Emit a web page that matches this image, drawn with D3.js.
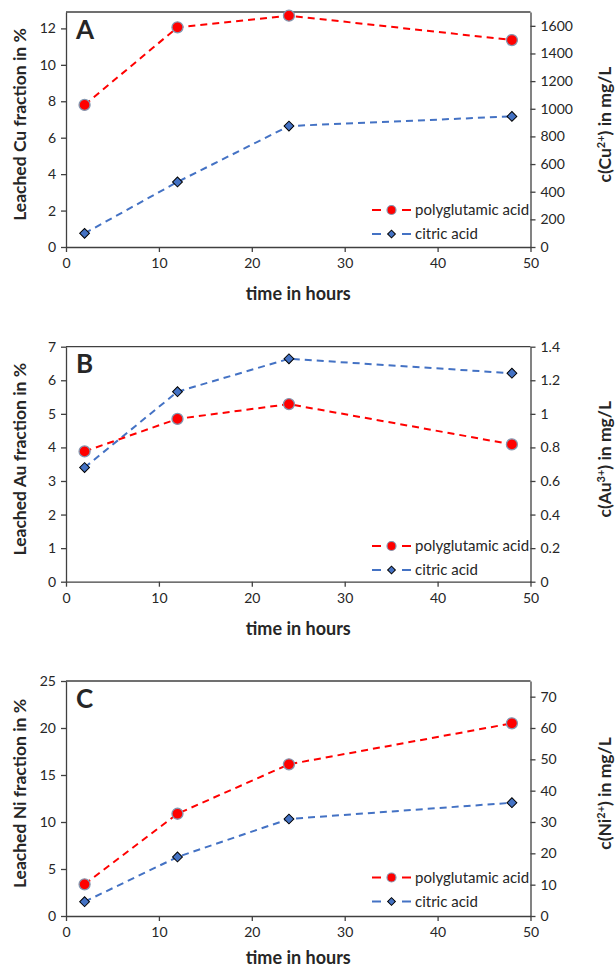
<!DOCTYPE html>
<html>
<head>
<meta charset="utf-8">
<script src="https://cdn.jsdelivr.net/npm/d3@7"></script>
<style>
  body { margin: 0; background: #fff; }
  svg text { font-family: Lato, "Open Sans", sans-serif; fill: #262626; }
</style>
</head>
<body>
<div id="chart"></div>
<script>
// datos
const hours = [2, 12, 24, 48];
const seriesNames = ["polyglutamic acid", "citric acid"];
const polyCu = [7.8, 12.06, 12.7, 11.36];
const citricCu = [0.75, 3.57, 6.64, 7.17];
const polyAu = [3.88, 4.85, 5.29, 4.09];
const citricAu = [3.4, 5.66, 6.64, 6.21];
const polyNi = [3.37, 10.88, 16.14, 20.5];
const citricNi = [1.52, 6.28, 10.32, 12.05];

const xTicks = [0, 10, 20, 30, 40, 50];
const cuLeftTicks = [0, 2, 4, 6, 8, 10, 12];
const cuRightTicks = [0, 200, 400, 600, 800, 1000, 1200, 1400, 1600];
const auLeftTicks = [0, 1, 2, 3, 4, 5, 6, 7];
const auRightTicks = [0, 0.2, 0.4, 0.6, 0.8, 1, 1.2, 1.4];
const niLeftTicks = [0, 5, 10, 15, 20, 25];
const niRightTicks = [0, 10, 20, 30, 40, 50, 60, 70];

const width = 615;
const height = 969;
const left = 66;
const right = 530.5;
const red = "#ff0000";
const blue = "#4472c4";

const panels = [
  { letter: "A", metal: "Cu", ion: "2+", top: 12, bottom: 247, leftMax: 12.9, rightMax: 1700,
    leftTicks: cuLeftTicks, rightTicks: cuRightTicks, poly: polyCu, citric: citricCu, legendY: 210 },
  { letter: "B", metal: "Au", ion: "3+", top: 346.7, bottom: 581.7, leftMax: 7, rightMax: 1.4,
    leftTicks: auLeftTicks, rightTicks: auRightTicks, poly: polyAu, citric: citricAu, legendY: 546 },
  { letter: "C", metal: "Ni", ion: "2+", top: 681, bottom: 916, leftMax: 25, rightMax: 75,
    leftTicks: niLeftTicks, rightTicks: niRightTicks, poly: polyNi, citric: citricNi, legendY: 877.5 },
];

const svg = d3.select("#chart").append("svg")
  .attr("width", width)
  .attr("height", height);

const xScale = d3.scaleLinear().domain([0, 50]).range([left, right]);

function styleAxis(g) {
  g.selectAll("path.domain").attr("stroke", "#404040").attr("stroke-width", 1.3);
  g.selectAll(".tick line").attr("stroke", "#404040").attr("stroke-width", 1.3);
  g.selectAll(".tick text").attr("font-size", 14).attr("fill", "#262626")
    .style("font-family", "Lato, sans-serif");
}

panels.forEach((p) => {
  const yScale = d3.scaleLinear().domain([0, p.leftMax]).range([p.bottom, p.top]);
  const y2Scale = d3.scaleLinear().domain([0, p.rightMax]).range([p.bottom, p.top]);
  const g = svg.append("g");

  // borde superior del área
  g.append("line")
    .attr("x1", left).attr("x2", right)
    .attr("y1", p.top).attr("y2", p.top)
    .attr("stroke", "#404040").attr("stroke-width", 1.3);

  const xAxisG = g.append("g")
    .attr("transform", "translate(0," + p.bottom + ")")
    .call(d3.axisBottom(xScale).tickValues(xTicks).tickSize(5).tickSizeOuter(0).tickPadding(6));
  styleAxis(xAxisG);

  const yAxisG = g.append("g")
    .attr("transform", "translate(" + left + ",0)")
    .call(d3.axisLeft(yScale).tickValues(p.leftTicks).tickSize(5).tickSizeOuter(0).tickPadding(5)
      .tickFormat((d) => String(d)));
  styleAxis(yAxisG);

  const y2AxisG = g.append("g")
    .attr("transform", "translate(" + right + ",0)")
    .call(d3.axisRight(y2Scale).tickValues(p.rightTicks).tickSize(5).tickSizeOuter(0).tickPadding(5)
      .tickFormat((d) => String(d)));
  styleAxis(y2AxisG);

  // letra del panel
  g.append("text")
    .attr("x", 76).attr("y", p.top + 26.5)
    .attr("font-size", 26).attr("font-weight", "bold")
    .attr("fill", "#000")
    .text(p.letter);

  // títulos de ejes
  g.append("text")
    .attr("x", (left + right) / 2).attr("y", Math.min(p.bottom + 53, height - 5))
    .attr("text-anchor", "middle")
    .attr("font-size", 18).attr("font-weight", "bold").attr("fill", "#000")
    .text("time in hours");

  const mid = (p.top + p.bottom) / 2 - 5;
  g.append("text")
    .attr("transform", "translate(26," + mid + ") rotate(-90)")
    .attr("text-anchor", "middle")
    .attr("font-size", 17.5).attr("font-weight", "bold").attr("fill", "#000")
    .text("Leached " + p.metal + " fraction in %");

  const rt = g.append("text")
    .attr("transform", "translate(611," + mid + ") rotate(-90)")
    .attr("text-anchor", "middle")
    .attr("font-size", 17.5).attr("font-weight", "bold").attr("fill", "#000");
  rt.append("tspan").text("c(" + p.metal);
  rt.append("tspan").attr("font-size", 11).attr("dy", -6).text(p.ion);
  rt.append("tspan").attr("dy", 6).text(") in mg/L");

  const line = d3.line()
    .x((d, i) => xScale(hours[i]))
    .y((d) => yScale(d));

  g.append("path").datum(p.citric)
    .attr("d", line).attr("fill", "none")
    .attr("stroke", blue).attr("stroke-width", 2).attr("stroke-dasharray", "7,5");

  g.append("path").datum(p.poly)
    .attr("d", line).attr("fill", "none")
    .attr("stroke", red).attr("stroke-width", 2).attr("stroke-dasharray", "7,5");

  const diamond = d3.symbol().type(d3.symbolSquare).size(48);
  g.selectAll(".dia").data(p.citric).enter().append("path")
    .attr("class", "dia")
    .attr("d", diamond)
    .attr("transform", (d, i) => "translate(" + xScale(hours[i]) + "," + yScale(d) + ") rotate(45)")
    .attr("fill", blue).attr("stroke", "#000").attr("stroke-width", 1);

  g.selectAll(".dot").data(p.poly).enter().append("circle")
    .attr("class", "dot")
    .attr("cx", (d, i) => xScale(hours[i]))
    .attr("cy", (d) => yScale(d))
    .attr("r", 5.5)
    .attr("fill", red).attr("stroke", "#8497b0").attr("stroke-width", 1.3);

  // leyenda
  const legend = g.append("g");
  seriesNames.forEach((name, k) => {
    const ly = p.legendY + k * 24;
    const col = k === 0 ? red : blue;
    legend.append("line").attr("x1", 372).attr("x2", 381).attr("y1", ly).attr("y2", ly)
      .attr("stroke", col).attr("stroke-width", 2);
    legend.append("line").attr("x1", 402).attr("x2", 411).attr("y1", ly).attr("y2", ly)
      .attr("stroke", col).attr("stroke-width", 2);
    if (k === 0) {
      legend.append("circle").attr("cx", 391.5).attr("cy", ly).attr("r", 4.5)
        .attr("fill", red).attr("stroke", "#8497b0").attr("stroke-width", 1.2);
    } else {
      legend.append("path").attr("d", d3.symbol().type(d3.symbolSquare).size(30))
        .attr("transform", "translate(391.5," + ly + ") rotate(45)")
        .attr("fill", blue).attr("stroke", "#000").attr("stroke-width", 1);
    }
    legend.append("text").attr("x", 415).attr("y", ly).attr("dy", "0.35em")
      .attr("font-size", 15).text(name);
  });
});
</script>
</body>
</html>
